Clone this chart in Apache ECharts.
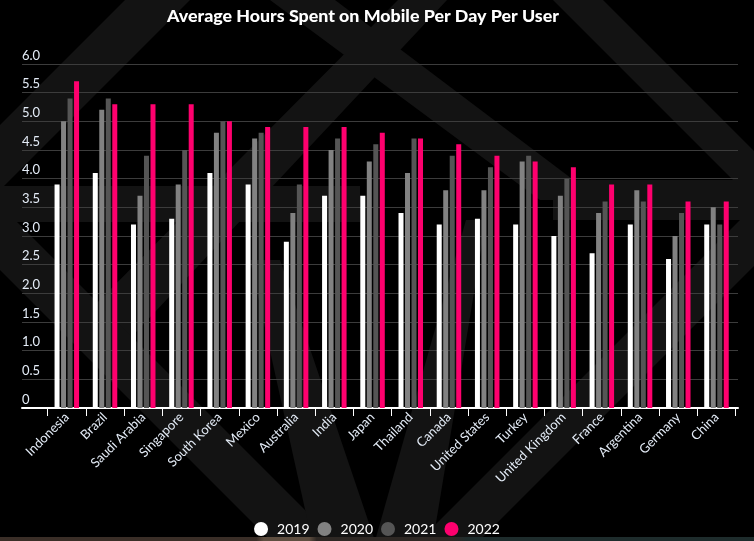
<!DOCTYPE html>
<html><head><meta charset="utf-8">
<script src="https://cdn.jsdelivr.net/npm/echarts@6/dist/echarts.min.js"></script>
<style>html,body{margin:0;padding:0;background:#000;}#c{width:754px;height:541px;}</style>
</head><body><div id="c"></div>
<script>
const titleText = 'Average Hours Spent on Mobile Per Day Per User';
const categories = ['Indonesia','Brazil','Saudi Arabia','Singapore','South Korea','Mexico','Australia','India','Japan','Thailand','Canada','United States','Turkey','United Kingdom','France','Argentina','Germany','China'];
const seriesNames = ['2019','2020','2021','2022'];
const hours2019 = [3.9,4.1,3.2,3.3,4.1,3.9,2.9,3.7,3.7,3.4,3.2,3.3,3.2,3.0,2.7,3.2,2.6,3.2];
const hours2020 = [5.0,5.2,3.7,3.9,4.8,4.7,3.4,4.5,4.3,4.1,3.8,3.8,4.3,3.7,3.4,3.8,3.0,3.5];
const hours2021 = [5.4,5.4,4.4,4.5,5.0,4.8,3.9,4.7,4.6,4.7,4.4,4.2,4.4,4.0,3.6,3.6,3.4,3.2];
const hours2022 = [5.7,5.3,5.3,5.3,5.0,4.9,4.9,4.9,4.8,4.7,4.6,4.4,4.3,4.2,3.9,3.9,3.6,3.6];
const yMin = 0, yMax = 6, yStep = 0.5;

const colors = ['#ffffff','#828282','#555555','#ff006e'];
const seriesData = [hours2019, hours2020, hours2021, hours2022];
const bandColor = '#131313';
const bands = [
  [[125,0],[190,0],[0,190],[0,125]],
  [[270,0],[335,0],[600,200],[540,200]],
  [[398,0],[447,0],[110,360],[70,330]],
  [[553,0],[603,0],[754,151],[754,201]],
  [[754,206],[754,266],[479,541],[419,541]],
  [[0,205],[0,270],[271,541],[336,541]],
  [[250,260],[280,260],[375,541],[312,541]],
  [[466,220],[486,220],[433,541],[375,541]],
  [[0,186],[360,186],[360,222],[0,222]],
  [[553,180],[754,180],[754,220],[553,220]]
];

const chart = echarts.init(document.getElementById('c'));
const graphics = bands.map(p => ({type:'polygon', z:-10, silent:true, shape:{points:p}, style:{fill:bandColor}}));
graphics.push({type:'rect', z:-10, silent:true, shape:{x:0,y:537,width:754,height:4},
  style:{fill:new echarts.graphic.LinearGradient(0,0,1,0,[
    {offset:0,color:'#3a2e27'},{offset:0.34,color:'#3a2e27'},{offset:0.35,color:'#5e4e40'},{offset:0.41,color:'#5e4e40'},{offset:0.42,color:'#2e2824'},{offset:0.6,color:'#2e2824'},{offset:0.62,color:'#1e2c2c'},{offset:1,color:'#1e2c2c'}])}});
graphics.push({type:'text', z:10, x:363, y:16, style:{text:titleText, fill:'#ffffff', font:'900 17.8px Lato', textAlign:'center', textVerticalAlign:'middle'}});

chart.setOption({
  backgroundColor:'#000000',
  animation:false,
  graphic: graphics,
  grid:[
    {left:22, right:16, top:64, bottom:133},
    {left:47.7, right:18.4, top:64, bottom:133}
  ],
  legend:{
    data: seriesNames.map(n => ({name:n, icon:'circle'})),
    left:'center', top:517, itemWidth:14, itemHeight:14, itemGap:8,
    textStyle:{color:'#ffffff', fontSize:14, fontFamily:'Lato', padding:[0,0,0,4]}
  },
  xAxis:[
    {type:'value', gridIndex:0, min:0, max:1, axisLine:{show:true, lineStyle:{color:'#ffffff', width:2}},
     axisTick:{show:false}, axisLabel:{show:false}, splitLine:{show:false}},
    {type:'category', gridIndex:1, data:categories, axisLine:{show:false},
     axisTick:{show:true, length:8, lineStyle:{color:'#ffffff', width:1}},
     axisLabel:{interval:0, rotate:45, margin:7, color:'#e4ecf7', fontSize:13, fontFamily:'Lato'}}
  ],
  yAxis:[
    {type:'value', gridIndex:0, min:yMin, max:yMax, interval:yStep,
     axisLine:{show:false}, axisTick:{show:false},
     splitLine:{show:true, lineStyle:{color:'#3c3c3c', width:1}},
     axisLabel:{inside:true, margin:0, color:'#e4ecf7', fontSize:13, fontFamily:'Lato', verticalAlign:'bottom', padding:[0,0,2,0],
       formatter: v => v === 0 ? '0' : v.toFixed(1)}},
    {type:'value', gridIndex:1, min:yMin, max:yMax, show:false}
  ],
  series: seriesNames.map((n,i) => ({
    name:n, type:'bar', xAxisIndex:1, yAxisIndex:1, data:seriesData[i],
    barWidth:5, barGap:'30%', itemStyle:{color:colors[i]}
  }))
});
</script></body></html>
